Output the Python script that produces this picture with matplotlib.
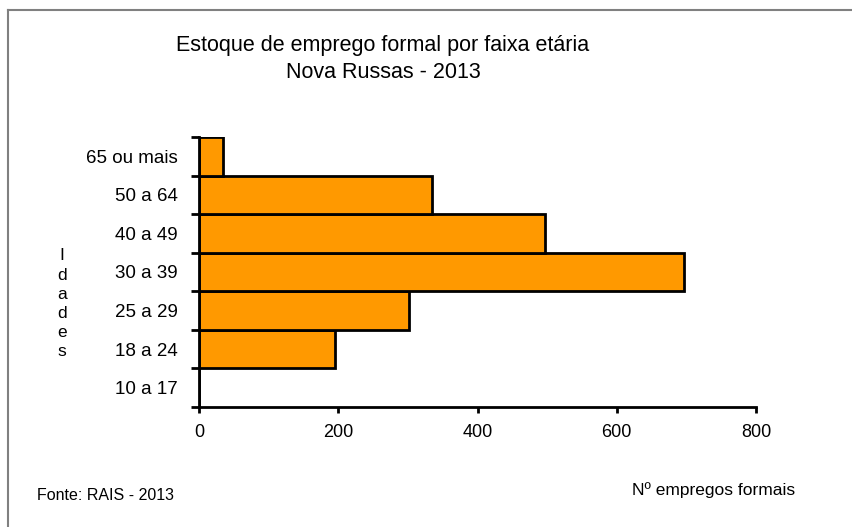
import numpy as np
import matplotlib.pyplot as plt
from matplotlib.lines import Line2D

# dados
faixas = ["10 a 17", "18 a 24", "25 a 29", "30 a 39", "40 a 49", "50 a 64", "65 ou mais"]
empregos = [0, 196, 302, 697, 497, 335, 34]
xticks = [0, 200, 400, 600, 800]

plt.rcParams['font.family'] = ['Liberation Sans', 'DejaVu Sans']

fig = plt.figure(figsize=(8.52, 5.27), dpi=100)
ax = fig.add_axes([199/852, 1-407/527, 557/852, 270/527])

y = np.arange(len(faixas))
ax.barh(y, empregos, height=1.0, color="#FF9900", edgecolor="black", linewidth=2)

ax.set_xlim(0, 800)
ax.set_ylim(-0.5, len(faixas) - 0.5)

# ticks nas divisões, rótulos no centro
ax.set_yticks(np.arange(len(faixas) + 1) - 0.5)
ax.set_yticklabels([])
ax.set_yticks(y, minor=True)
ax.set_yticklabels(faixas, minor=True, fontsize=13.5)
ax.tick_params(axis="y", which="minor", length=0, pad=15.5)
ax.tick_params(axis="y", which="major", length=6, width=2, direction="out")
ax.set_xticks(xticks)
ax.set_xticklabels([str(v) for v in xticks], fontsize=13)
ax.tick_params(axis="x", length=4, width=2, direction="out", pad=8)

for s in ["top", "right"]:
    ax.spines[s].set_visible(False)
for s in ["left", "bottom"]:
    ax.spines[s].set_linewidth(2)

# textos
fig.text(383/852, 1-45/527, "Estoque de emprego formal por faixa etária",
         ha="center", va="center", fontsize=15.5)
fig.text(383/852, 1-73/527, "Nova Russas - 2013",
         ha="center", va="center", fontsize=15.5)
fig.text(62/852, 1-304/527, "I\nd\na\nd\ne\ns", ha="center", va="center",
         fontsize=12.5, linespacing=1.35)
fig.text(37/852, 1-495/527, "Fonte: RAIS - 2013", ha="left", va="center", fontsize=11.5)
fig.text(795/852, 1-490/527, "Nº empregos formais", ha="right", va="center", fontsize=12.5)

# moldura
fig.add_artist(Line2D([8/852, 8/852], [0, 1-10/527], color="#808080", linewidth=1.5))
fig.add_artist(Line2D([8/852, 1], [1-10/527, 1-10/527], color="#808080", linewidth=1.5))

fig.savefig("out.png", dpi=100)
